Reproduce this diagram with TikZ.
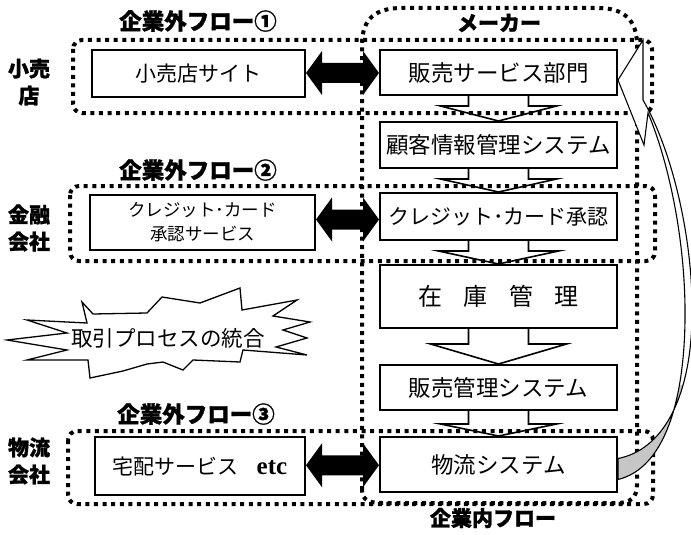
\documentclass[tikz,border=0pt]{standalone}
\usepackage{fontspec}
\setmainfont{Noto Sans CJK JP}
\newfontfamily\jp{Noto Sans CJK JP}
\newfontfamily\jpb{Noto Sans CJK JP}[BoldFeatures={FakeBold=1.2}]
\newfontfamily\lserif{Liberation Serif}
\usetikzlibrary{calc}
\newcommand\dblarr[2]{%
 \fill let \p1=(#1.east), \p2=(#2.west), \p3=($(#1.east)!.5!(#2.west)$) in
  (\x1,\y3) -- (\x1+16pt,\y3+22pt) -- (\x1+16pt,\y3+10pt) -- (\x2-16pt,\y3+10pt) -- (\x2-16pt,\y3+22pt)
  -- (\x2,\y3) -- (\x2-16pt,\y3-22pt) -- (\x2-16pt,\y3-10pt) -- (\x1+16pt,\y3-10pt) -- (\x1+16pt,\y3-22pt) -- cycle;}
\newcommand\flowarr[4]{%
 \filldraw[fill=white, line width=1.6pt, line join=miter] let \p1=(#1.south), \p2=(#2.north) in
  (\x1-30pt,\y1) -- (\x1-30pt,\y1-#3) -- (\x1-#4,\y1-#3) -- (\x1,\y2) -- (\x1+#4,\y1-#3) -- (\x1+30pt,\y1-#3) -- (\x1+30pt,\y1);}
\begin{document}
\begin{tikzpicture}[x=1pt,y=-1pt,
 mbox/.style={draw, line width=2pt, fill=white, minimum width=237pt, inner sep=0pt, font=\jp\fontsize{22.5}{26}\selectfont},
 lbox/.style={draw, line width=2pt, fill=white, inner sep=0pt, align=center, font=\jp\fontsize{21}{25}\selectfont},
 grp/.style={line width=4pt, dash pattern=on 4pt off 4.6pt, rounded corners=9pt},
 head/.style={font=\jpb\bfseries\fontsize{22.5}{24}\selectfont, inner sep=0pt},
 side/.style={font=\jpb\bfseries\fontsize{21}{27}\selectfont, align=center, inner sep=0pt},
]
\useasboundingbox (0,0) rectangle (691,535);
% main column
\node[mbox, minimum height=45pt] (b1) at (498.5,72.5) {販売サービス部門};
\node[mbox, minimum height=46pt] (b2) at (498.5,145) {顧客情報管理システム};
\node[mbox, minimum height=47pt, font=\jp\fontsize{21}{26}\selectfont] (b3) at (498.5,216.5) {クレジット･カード承認};
\node[mbox, minimum height=63pt, font=\jp\fontsize{24}{26}\selectfont] (b4) at (498.5,296.5) {在\hspace{0.9em}庫\hspace{0.9em}管\hspace{0.9em}理};
\node[mbox, minimum height=45pt] (b5) at (498.5,387.5) {販売管理システム};
\node[mbox, minimum height=55pt] (b6) at (498.5,464.5) {物流システム};
% left boxes
\node[lbox, minimum width=213pt, minimum height=47pt] (l1) at (198.5,73.5) {小売店サイト};
\node[lbox, minimum width=225pt, minimum height=55pt, font=\jp\fontsize{17.5}{24}\selectfont] (l2) at (202.5,222.5) {クレジット･カード\\承認サービス};
\node[lbox, minimum width=210pt, minimum height=58pt] (l3) at (200,466) {宅配サービス\hspace{18pt}{\lserif\bfseries\fontsize{25}{25}\selectfont etc}};
% flow arrows
\flowarr{b1}{b2}{10pt}{58pt}
\flowarr{b2}{b3}{10pt}{58pt}
\flowarr{b3}{b4}{10pt}{60pt}
\flowarr{b4}{b5}{15pt}{68pt}
\flowarr{b5}{b6}{13pt}{58pt}
% double arrows
\dblarr{l1}{b1}
\dblarr{l2}{b3}
\dblarr{l3}{b6}
% group boxes
\draw[grp] (73,40) rectangle (652,113);
\draw[grp] (70,186) rectangle (655,261);
\draw[grp] (68,431) rectangle (653,504);
\draw[line width=4pt, dash pattern=on 4pt off 4.6pt]
  (362,490) -- (362,45) .. controls (362,18) and (376,8) .. (402,8) -- (598,8)
  .. controls (624,8) and (637,20) .. (637,45) -- (637,485)
  .. controls (637,498) and (630,503) .. (617,503) -- (382,503)
  .. controls (369,503) and (362,500) .. (362,490);
% labels
\node[head] (h1) at (198,21) {企業外フロー①};
\node[head] (h2) at (198,170) {企業外フロー②};
\node[head] (h3) at (196,414) {企業外フロー③};
\node[head, font=\jpb\bfseries\fontsize{21}{24}\selectfont] (mk) at (499,23) {メーカー};
\node[head, font=\jpb\bfseries\fontsize{21}{24}\selectfont] (nf) at (493,518) {企業内フロー};
\node[side] (s1) at (29,82) {小売\\店};
\node[side] (s2) at (29,228) {金融\\会社};
\node[side] (s3) at (29,461) {物流\\会社};
% starburst
\draw[line width=1.3pt, fill=white, line join=miter]
  (82,302) -- (93,314) -- (147,313) -- (162,297) -- (200,303) -- (240,288) -- (242,310) -- (297,300)
  -- (273,316) -- (310,322) -- (283,330) -- (307,338) -- (276,347) -- (307,355) -- (243,350)
  -- (240,362) -- (193,360) -- (183,370) -- (163,362) -- (147,364) -- (123,371) -- (90,378)
  -- (88,360) -- (27,360) -- (67,350) -- (7,340) -- (67,333) -- (27,320) -- (87,323) -- cycle;
\node[font=\jp\fontsize{21.5}{24}\selectfont, inner sep=0pt] (burst) at (168,338) {取引プロセスの統合};
% curved return arrow
\def\shaft{($(b1.east)+(0,7.5)$) -- (643,40) -- (643,100)
  .. controls (672,150) and (694,240) .. (692,320)
  .. controls (690,400) and (662,450) .. ($(b6.east)+(0,-6)$)
  -- ($(b6.east)+(0,15)$)
  .. controls (665,468) and (684,400) .. (685,320)
  .. controls (686,240) and (668,160) .. (648,113)
  -- (644,145) -- cycle}
\fill[white] \shaft;
\begin{scope}
\clip (600,385) rectangle (700,500);
\fill[gray!45] \shaft;
\end{scope}
\draw[line width=1.1pt, line join=miter] \shaft;
\end{tikzpicture}
\end{document}
